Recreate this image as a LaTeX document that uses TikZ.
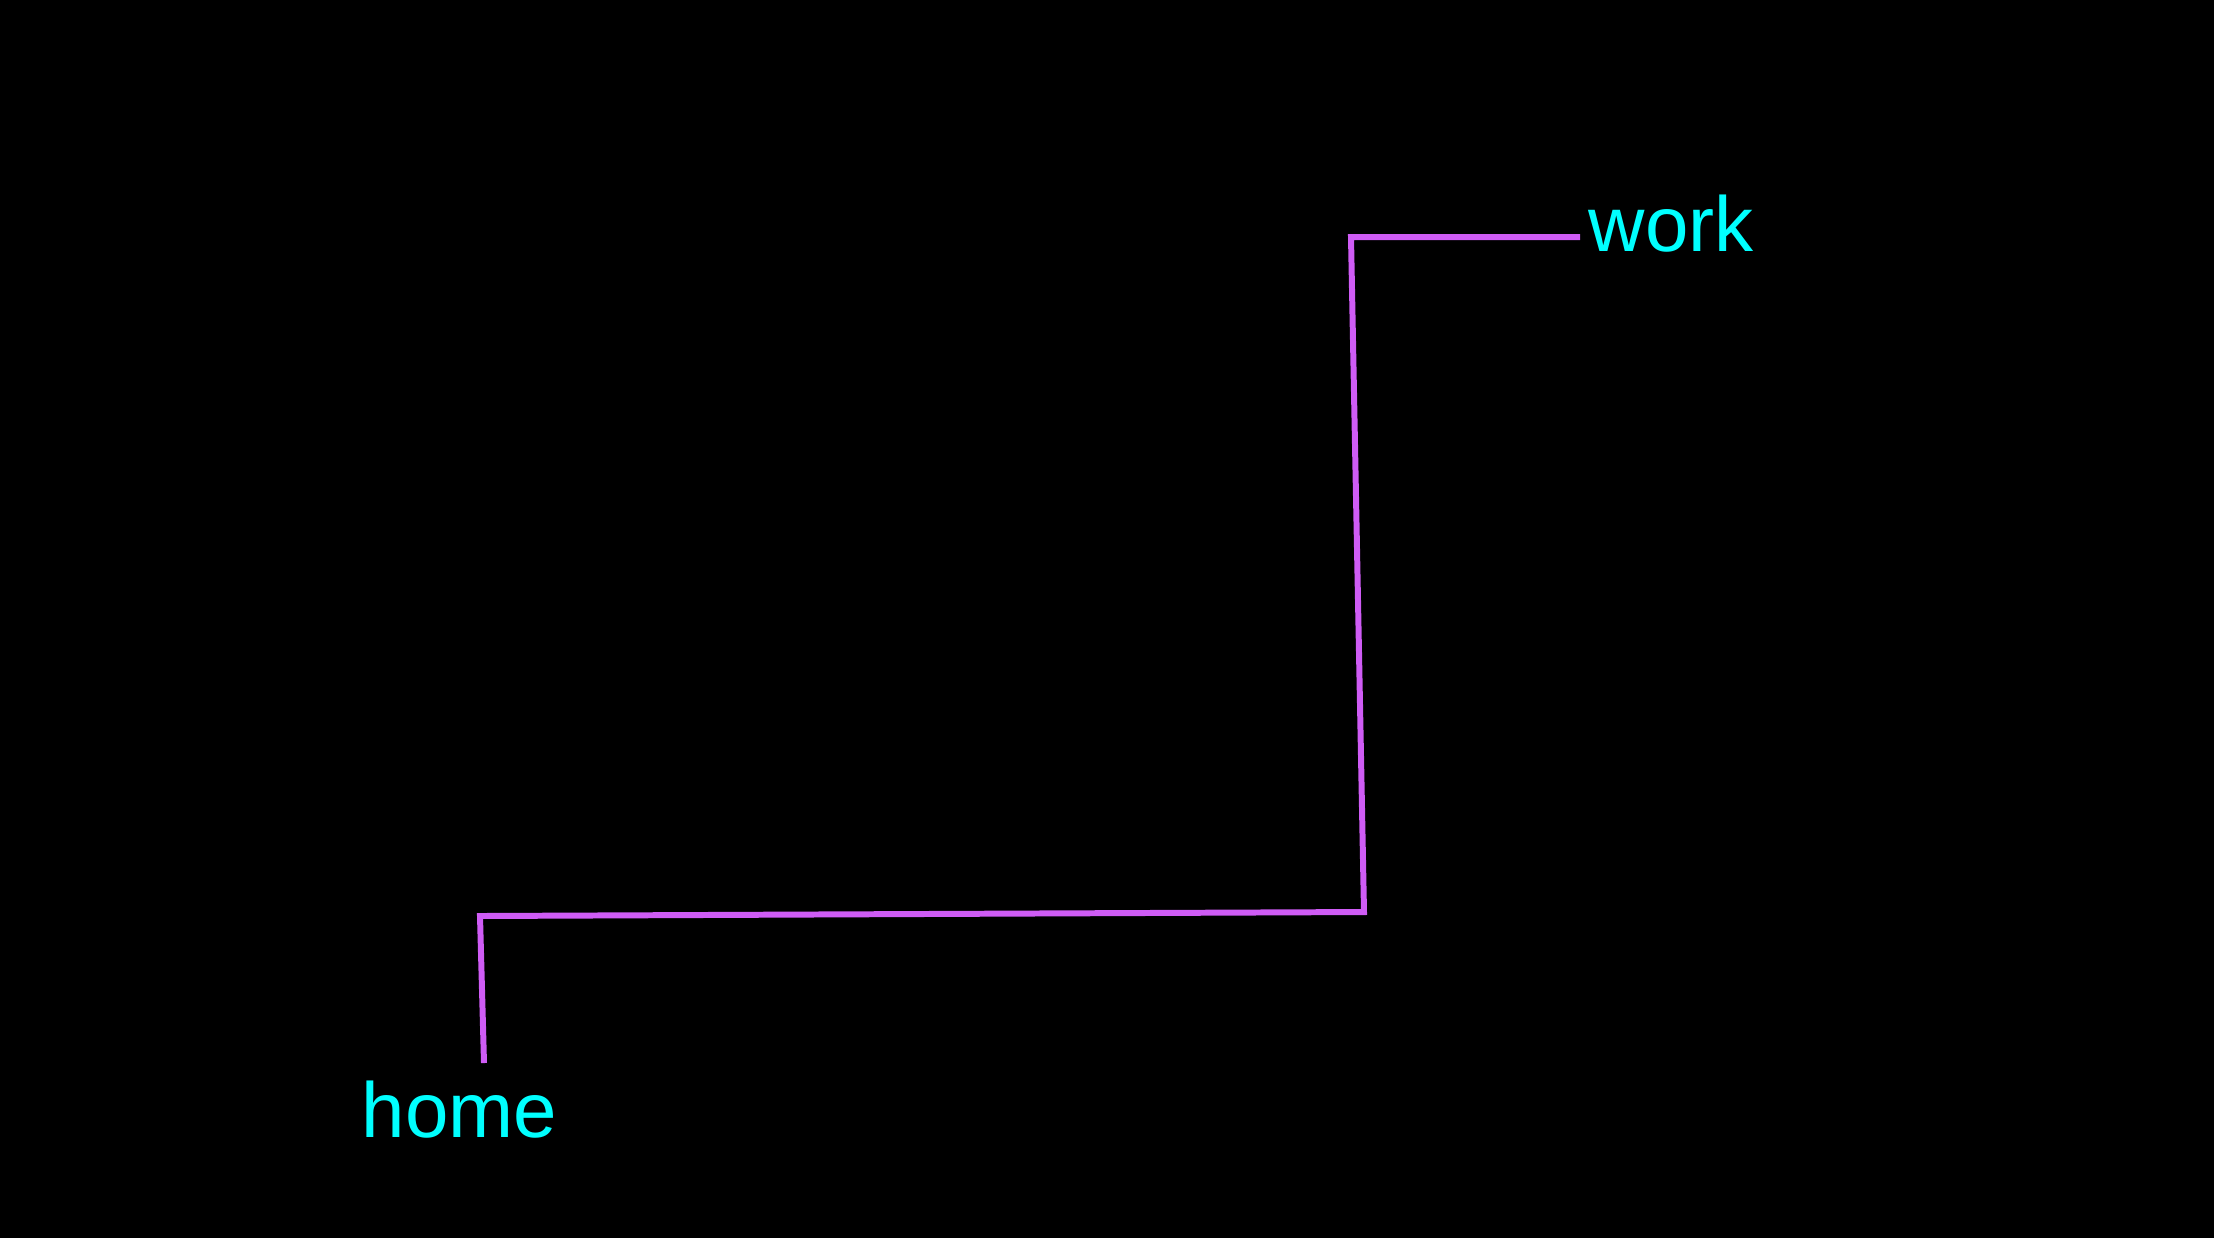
\documentclass[tikz,border=0pt]{standalone}
\usepackage{fontspec}
\setmainfont{Liberation Sans}
\usetikzlibrary{positioning,calc}
\usepackage{xcolor}
\definecolor{routepink}{RGB}{207,92,245}
\definecolor{labelcyan}{RGB}{0,255,255}

\begin{document}
\begin{tikzpicture}[x=0.01cm, y=-0.01cm, every node/.style={inner sep=0pt, text=labelcyan, font=\fontsize{22.2}{26}\selectfont}]
            % Background
            \fill[black] (0,0) rectangle (2214,1238);
            \useasboundingbox (0,0) rectangle (2214,1238);

            % Labels
            \node[anchor=base west] (home) at (361,1137) {home};
            \node[anchor=base west] (work) at (1588,251) {work};

            % Route points
            \coordinate (start) at (484,1063);
            \coordinate (bendA) at (480,916);
            \coordinate (bendB) at (1364,912);
            \coordinate (bendC) at (1351,237);
            \coordinate (finish) at (1580,237);

            % Route
            \draw[routepink, line width=1.7pt, line join=miter] (start) -- (bendA) -- (bendB) -- (bendC) -- (finish);
        \end{tikzpicture}
\end{document}
